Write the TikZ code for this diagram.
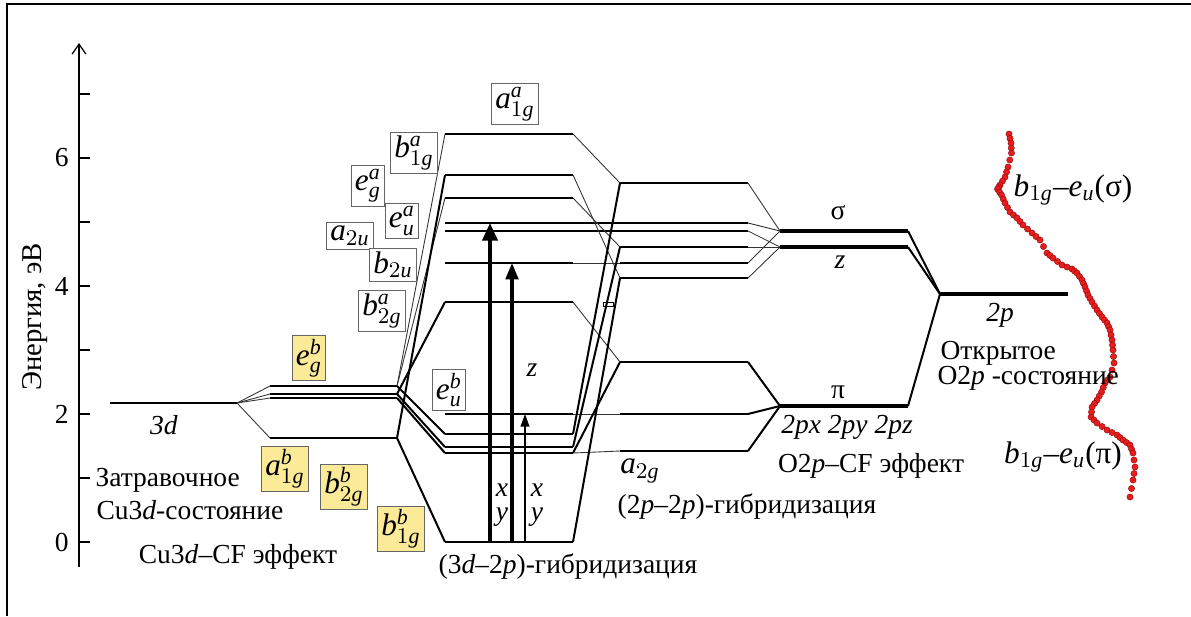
\documentclass[tikz,border=0pt]{standalone}
\usepackage{fontspec}
\setmainfont{Liberation Serif}
\usetikzlibrary{arrows.meta,positioning,calc}
\definecolor{boxyellow}{RGB}{251,234,152}
\definecolor{dotred}{RGB}{230,30,30}
\newcommand{\orb}[4]{$\mathit{#1}^{\mathit{#2}}_{#3\mathit{#4}}$}
\newcommand{\level}[5][lvl]{\draw[#1] (#3,#5) coordinate (#2-l) -- (#4,#5) coordinate (#2-r);}

\begin{document}
\begin{tikzpicture}[x=0.4pt, y=-0.4pt,
  font=\fontsize{11}{13}\selectfont,
  lvl/.style={line width=1.1pt},
  hvy/.style={line width=1.7pt},
  cn/.style={line width=0.35pt, black!80},
  cnb/.style={line width=0.8pt},
  txt/.style={inner sep=0pt},
  lab/.style={draw=black!60, line width=0.4pt, fill=white, inner sep=1.4pt,
    font=\fontsize{12.5}{14}\selectfont},
  ylab/.style={lab, fill=boxyellow},
  sym/.style={inner sep=0pt, font=\fontsize{12.5}{14}\selectfont},
  dot/.style={fill=dotred, draw=red!55!black, line width=0.15pt}]
\useasboundingbox (0,0) rectangle (1191,616);
\draw[line width=0.5pt] (7,616) -- (7,4) -- (1191,4);

% energy axis
\draw[line width=0.5pt, -{Straight Barb[length=4pt,width=5.5pt]}] (79,567) -- (79,43);
\foreach \e in {0,...,7}
  \draw[line width=0.6pt] (79,542-64*\e) -- (90,542-64*\e);
\foreach \e in {0,2,4,6}
  \node[txt, anchor=east] at (69,542-64*\e) {\e};
\node[rotate=90, font=\fontsize{11.5}{13}\selectfont] (elab) at (35,317) {Энергия, эВ};

% Cu3d and its crystal field splitting
\level{d3}{110}{237}{403}
\level{egA}{270}{397}{386}
\level{egB}{270}{397}{394}
\level{btg}{270}{397}{398}
\level{aog}{270}{397}{438}
\foreach \t in {egA,egB,btg,aog} \draw[cn] (d3-r) -- (\t-l);

% 3d-2p column
\level{ha}{445}{573}{134}
\level{hb}{445}{573}{175}
\level{he}{445}{573}{198}
\level{hua}{445}{748}{223}
\level{hub}{445}{748}{231}
\level{hbu}{445}{573}{263}
\level{hbg}{445}{573}{302}
\level{heu}{445}{573}{414}
\level{hk}{445}{573}{434}
\level{hl}{445}{573}{447}
\level{hm}{445}{573}{453}
\level{hbot}{445}{573}{542}

\draw[cn] (egA-r) -- (ha-l);
\draw[cn] (egA-r) -- (he-l);
\draw[cnb] (aog-r) -- (hb-l);
\draw[cnb] (egB-r) -- (hbg-l);
\draw[cnb] (egA-r) -- (hk-l);
\draw[cnb] (egB-r) -- (hl-l);
\draw[cnb] (btg-r) -- (hm-l);
\draw[cnb] (aog-r) -- (hbot-l);

% 2p-2p column
\level{oa}{620}{748}{183}
\level{ob}{620}{748}{247}
\level{obu}{620}{748}{263}
\level{oc}{620}{748}{278}
\level{od}{620}{748}{362}
\level{oe}{620}{748}{414}
\level{of}{620}{748}{451}

\draw[cn] (ha-r) -- (oa-l);
\draw[cn] (hb-r) -- (oc-l);
\draw[cn] (he-r) -- (ob-l);
\draw[cn] (hbg-r) -- (od-l);
\draw[cn] (hbu-r) -- (obu-l);
\draw[cn] (heu-r) -- (oe-l);
\draw[cn] (hm-r) -- (of-l);
\draw[cnb] (hk-r) -- (oa-l);
\draw[cnb] (hl-r) -- (ob-l);
\draw[cnb] (hm-r) -- (od-l);
\draw[cnb] (hbot-r) -- (oc-l);
\draw[line width=0.4pt] (603,302) rectangle (613,306);

% O2p crystal field
\level[hvy]{sig}{780}{908}{231}
\level[hvy]{zz}{780}{908}{247}
\level[hvy]{pi}{780}{908}{406}
\level[hvy]{tp}{940}{1068}{294}

\foreach \t in {oa,hua,obu} \draw[cn] (\t-r) -- (sig-l);
\foreach \t in {hub,ob,oc} \draw[cn] (\t-r) -- (zz-l);
\foreach \t in {od,oe,of} \draw[cnb] (\t-r) -- (pi-l);
\foreach \t in {sig,zz,pi} \draw[cnb] (\t-r) -- (tp-l);

% transitions
\coordinate (ta0) at (490,542); \coordinate (ta1) at (490,223);
\coordinate (tb0) at (512,542); \coordinate (tb1) at (512,263);
\coordinate (tc0) at (525,542); \coordinate (tc1) at (525,414);
\draw[line width=1.4pt, -{Triangle[width=6pt,length=7pt]}] (ta0) -- (ta1);
\draw[line width=1.3pt, -{Triangle[width=5pt,length=6.5pt]}] (tb0) -- (tb1);
\draw[line width=0.5pt, -{Triangle[width=3.5pt,length=5pt]}] (tc0) -- (tc1);
\node[txt] (xa) at (502,490) {\textit{x}};
\node[txt] (ya) at (502,517) {\textit{y}};
\node[txt] (xb) at (537,490) {\textit{x}};
\node[txt] (yb) at (537,517) {\textit{y}};
\node[txt] (zb) at (532,370) {\textit{z}};

% spectral curve, red dots
\foreach \px/\py [remember=\px as \qx (initially 1009),
                  remember=\py as \qy (initially 134)] in {1011/143, 1011.5/153,
  1008/167, 1005/177, 1000/185, 997.5/189, 1001.5/195, 1005/203, 1010/212,
  1017/218, 1023/225, 1032/233, 1040/240, 1047/253, 1053/258, 1062/265,
  1072/269, 1077/273, 1082/280, 1085/287, 1088/295, 1092/302, 1097/310,
  1102/317, 1107/323, 1110/330, 1112/340, 1113/350, 1114/363, 1110/377,
  1105/383, 1101.5/392, 1097/400, 1092/407, 1091/417, 1097/423, 1107/430,
  1117/435, 1123/440, 1130/445, 1133/453, 1135/467, 1133/480, 1130/497}
{
  \foreach \t in {0,0.5}
    \path[dot] ($(\qx,\qy)!\t!(\px,\py)$) circle (1.25pt);
}
\path[dot] (1130,497) circle (1.25pt);

% boxed symmetry labels
\node[lab] (aaog) at (515,104) {\orb{a}{a}{1}{g}};
\node[lab] (abog) at (414,153) {\orb{b}{a}{1}{g}};
\node[lab] (aeg) at (368,186) {\orb{e}{a}{}{g}};
\node[lab] (aeu) at (402,221) {\orb{e}{a}{}{u}};
\node[lab] (atu) at (350,236) {$\mathit{a}_{2\mathit{u}}$};
\node[lab] (btu) at (393,265) {$\mathit{b}_{2\mathit{u}}$};
\node[lab] (abtg) at (382,311) {\orb{b}{a}{2}{g}};
\node[lab] (beu) at (449,390) {\orb{e}{b}{}{u}};
\node[ylab] (beg) at (309,358) {\orb{e}{b}{}{g}};
\node[ylab] (baog) at (285,469) {\orb{a}{b}{1}{g}};
\node[ylab] (btwg) at (344,487) {\orb{b}{b}{2}{g}};
\node[ylab] (bbog) at (401,529) {\orb{b}{b}{1}{g}};

% texts
\node[txt] (d3lab) at (164,425) {\textit{3d}};
\node[txt, anchor=west] (seed) at (95,480) {Затравочное};
\node[txt, anchor=west] (seedb) at (96,510) {Cu3\textit{d}-состояние};
\node[txt] (cucf) at (238,557) {Cu3\textit{d}–CF эффект};
\node[txt] (hyba) at (568,567) {(3\textit{d}–2\textit{p})-гибридизация};
\node[sym] (atg) at (640,471) {$\mathit{a}_{2\mathit{g}}$};
\node[txt] (hybb) at (747,507) {(2\textit{p}–2\textit{p})-гибридизация};
\node[txt] (pxyz) at (847,427) {\textit{2px 2py 2pz}};
\node[txt] (ocf) at (871,466) {O2\textit{p}–CF эффект};
\node[txt] (sgl) at (838,213) {σ};
\node[txt] (zzl) at (840,262) {\textit{z}};
\node[txt] (pil) at (838,392) {π};
\node[txt] (tpl) at (1000,315) {\textit{2p}};
\node[txt, anchor=west] (opa) at (940,353) {Открытое};
\node[txt, anchor=west] (opb) at (937,378) {O2\textit{p} -состояние};
\node[sym] (bes) at (1073,190) {$\mathit{b}_{1\mathit{g}}$–$\mathit{e}_{\mathit{u}}$(σ)};
\node[sym] (bep) at (1063,457) {$\mathit{b}_{1\mathit{g}}$–$\mathit{e}_{\mathit{u}}$(π)};
\end{tikzpicture}
\end{document}
